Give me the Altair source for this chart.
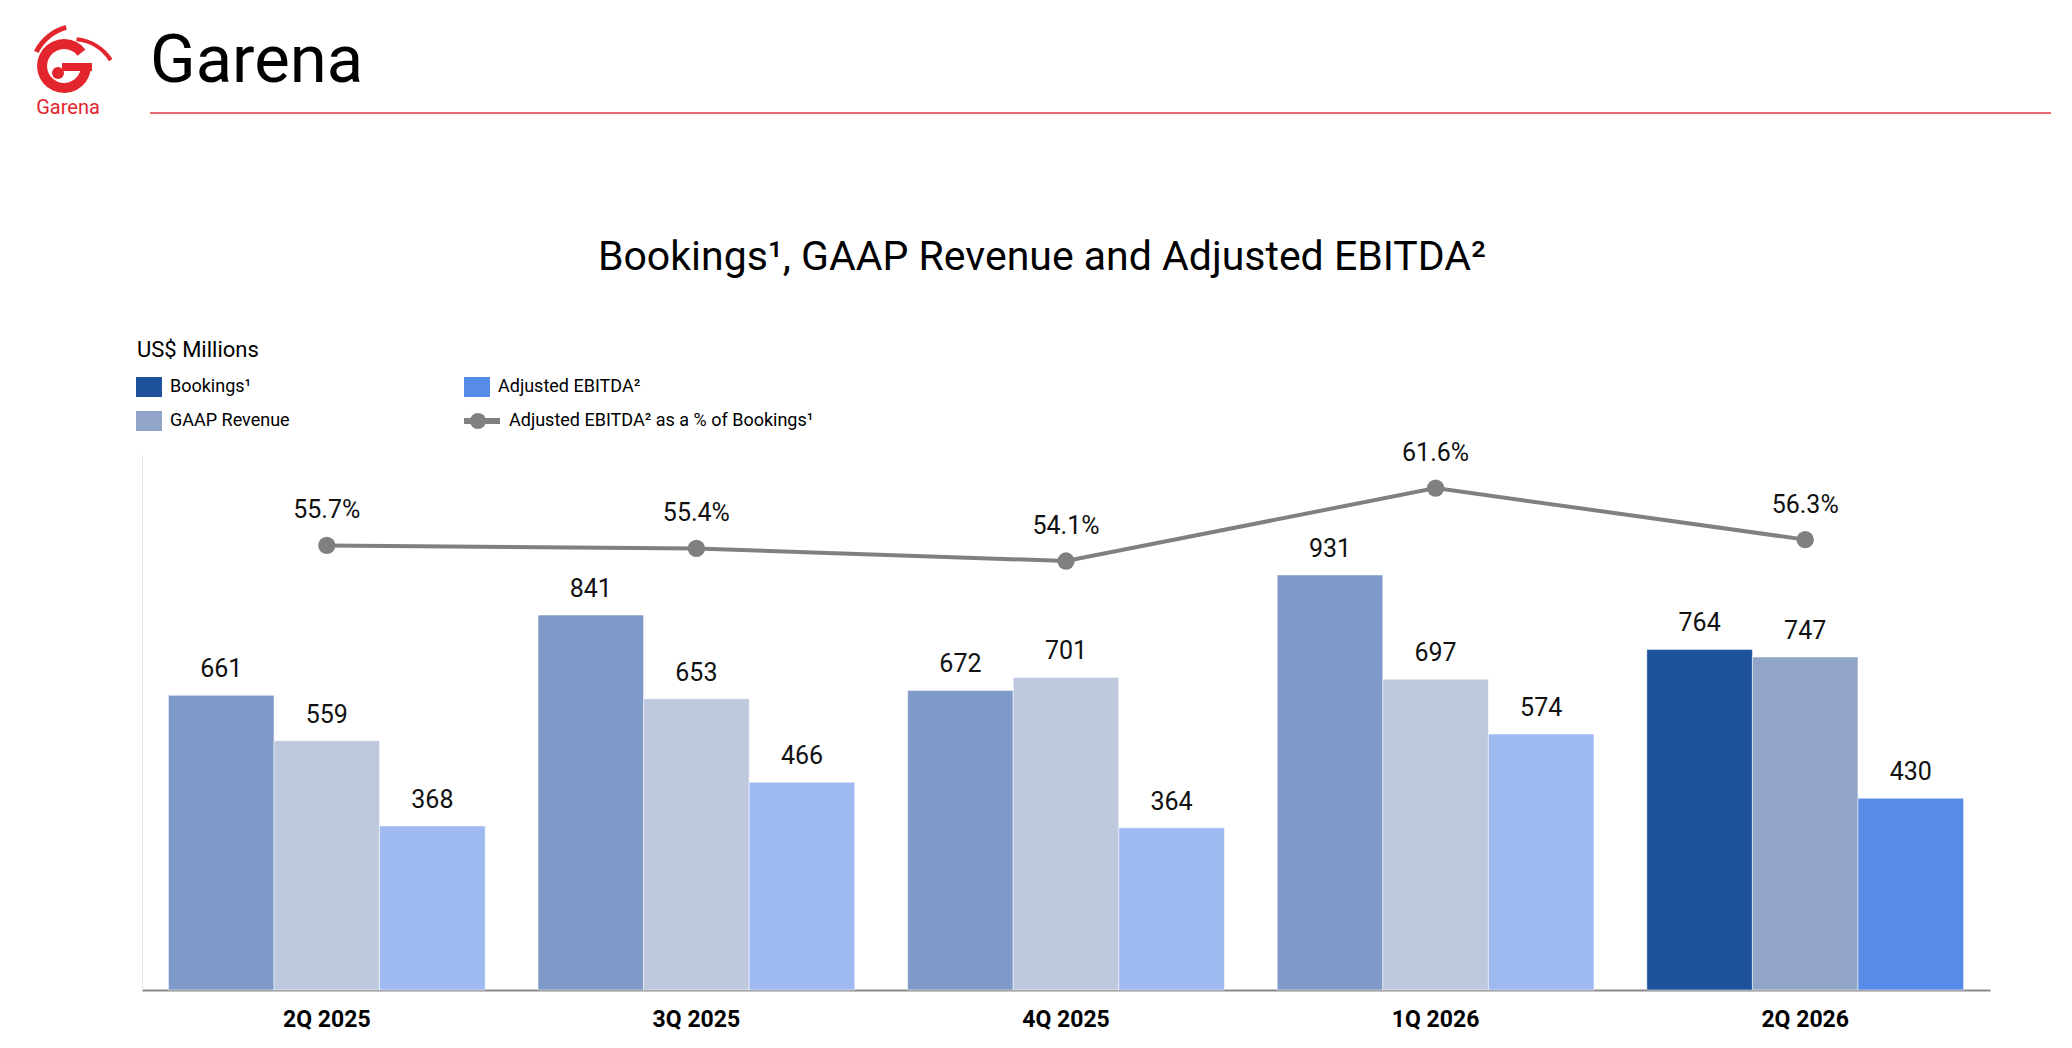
import altair as alt
import pandas as pd

# ---------------- data ----------------
quarters = ["2Q 2025", "3Q 2025", "4Q 2025", "1Q 2026", "2Q 2026"]
bookings = [661, 841, 672, 931, 764]
gaap_revenue = [559, 653, 701, 697, 747]
adj_ebitda = [368, 466, 364, 574, 430]
ebitda_pct = [55.7, 55.4, 54.1, 61.6, 56.3]

series_names = ["Bookings¹", "GAAP Revenue", "Adjusted EBITDA²"]
line_name = "Adjusted EBITDA² as a % of Bookings¹"
highlight_quarter = "2Q 2026"

light_colors = ["#7F9AC8", "#BEC9E0", "#9EBAF0"]
dark_colors = ["#1F529C", "#91A5C8", "#568CE8"]
line_color = "#808080"
FONT = "Roboto"

# ---------------- tables ----------------
rows = []
for i, q in enumerate(quarters):
    for s, vals in zip(series_names, [bookings, gaap_revenue, adj_ebitda]):
        key = s + (" latest" if q == highlight_quarter else "")
        rows.append({"quarter": q, "series": s, "value": vals[i], "colorKey": key})
bars_df = pd.DataFrame(rows)

line_df = pd.DataFrame({"quarter": quarters, "pct": ebitda_pct})
line_df["label"] = line_df["pct"].map(lambda v: f"{v:.1f}%")

color_domain = series_names + [s + " latest" for s in series_names]
color_range = light_colors + dark_colors

W, H = 1848, 535

x_enc = alt.X(
    "quarter:N",
    sort=quarters,
    title=None,
    scale=alt.Scale(paddingInner=0.143, paddingOuter=0.0715),
    axis=alt.Axis(
        labelFont=FONT, labelFontSize=23, labelFontWeight="bold", labelColor="#000000",
        labelAngle=0, ticks=False, tickSize=0, labelPadding=36, labelBaseline="alphabetic",
        domainColor="#8a8a8a", domainWidth=2, grid=False,
    ),
)
xoff_enc = alt.XOffset("series:N", sort=series_names, scale=alt.Scale(paddingInner=0, paddingOuter=0))
bar_scale = alt.Scale(domain=[0, 1200], nice=False, zero=True)
pct_scale = alt.Scale(domain=[10, 65], nice=False, zero=False)

bars = alt.Chart(bars_df).mark_bar(stroke="white", strokeWidth=1, strokeOpacity=0.5).encode(
    x=x_enc,
    xOffset=xoff_enc,
    y=alt.Y("value:Q", scale=bar_scale, title=None,
            axis=alt.Axis(labels=False, ticks=False, grid=False, domainColor="#e8e8e8",
                          domainWidth=1, title=None)),
    color=alt.Color("colorKey:N", scale=alt.Scale(domain=color_domain, range=color_range), legend=None),
)

bar_text = alt.Chart(bars_df).mark_text(
    dy=-18, baseline="alphabetic", font=FONT, fontSize=25, color="#111111"
).encode(
    x=x_enc,
    xOffset=xoff_enc,
    y=alt.Y("value:Q", scale=bar_scale, axis=None),
    text=alt.Text("value:Q"),
)

line = alt.Chart(line_df).mark_line(color=line_color, strokeWidth=4).encode(
    x=x_enc,
    y=alt.Y("pct:Q", scale=pct_scale, axis=None),
)
points = alt.Chart(line_df).mark_circle(color=line_color, size=300, opacity=1).encode(
    x=x_enc,
    y=alt.Y("pct:Q", scale=pct_scale, axis=None),
)
line_text = alt.Chart(line_df).mark_text(
    dy=-27, baseline="alphabetic", font=FONT, fontSize=25, color="#111111"
).encode(
    x=x_enc,
    y=alt.Y("pct:Q", scale=pct_scale, axis=None),
    text="label:N",
)


# ---------------- decorations (page furniture) ----------------
def text_layer(txt, x, y, size, color="#000000", align="left", weight="normal", baseline="alphabetic", font=FONT):
    return alt.Chart(pd.DataFrame({"t": [txt]})).mark_text(
        align=align, baseline=baseline, font=font, fontSize=size, color=color, fontWeight=weight
    ).encode(text="t:N", x=alt.value(x), y=alt.value(y))


one = pd.DataFrame({"k": [0]})
decor = []
# header
decor.append(text_layer("Garena", 8, -373, 67))
decor.append(alt.Chart(one).mark_rule(color="#E5393F", strokeWidth=1.5).encode(
    x=alt.value(8), x2=alt.value(1909), y=alt.value(-342)))
# logo (simplified)
decor.append(alt.Chart(one).mark_arc(color="#E3262D").encode(
    x=alt.value(-78), y=alt.value(-389), radius=alt.value(27), radius2=alt.value(17),
    theta=alt.value(1.75), theta2=alt.value(7.2)))
decor.append(alt.Chart(one).mark_rect(color="#E3262D").encode(
    x=alt.value(-80), x2=alt.value(-50), y=alt.value(-392), y2=alt.value(-384)))
decor.append(alt.Chart(one).mark_arc(color="#E3262D").encode(
    x=alt.value(-84), y=alt.value(-382), radius=alt.value(6), theta=alt.value(0), theta2=alt.value(6.3)))
decor.append(alt.Chart(one).mark_arc(color="#E3262D").encode(
    x=alt.value(-62), y=alt.value(-380), radius=alt.value(52), radius2=alt.value(47),
    theta=alt.value(5.2), theta2=alt.value(6.0)))
decor.append(alt.Chart(one).mark_arc(color="#E3262D").encode(
    x=alt.value(-70), y=alt.value(-370), radius=alt.value(48), radius2=alt.value(44),
    theta=alt.value(0.1), theta2=alt.value(1.0)))
decor.append(text_layer("Garena", -74, -341, 20, color="#E3262D", align="center"))
# title
decor.append(text_layer("Bookings¹, GAAP Revenue and Adjusted EBITDA²", 900, -185, 41, align="center"))
decor.append(text_layer("US$ Millions", -5, -98, 22))

# legend
legend_font = 18
row_y = [-68, -34]
decor.append(alt.Chart(one).mark_rect(color=dark_colors[0]).encode(
    x=alt.value(-6), x2=alt.value(20), y=alt.value(row_y[0] - 10), y2=alt.value(row_y[0] + 10)))
decor.append(text_layer(series_names[0], 28, row_y[0], legend_font, baseline="middle"))
decor.append(alt.Chart(one).mark_rect(color=dark_colors[1]).encode(
    x=alt.value(-6), x2=alt.value(20), y=alt.value(row_y[1] - 10), y2=alt.value(row_y[1] + 10)))
decor.append(text_layer(series_names[1], 28, row_y[1], legend_font, baseline="middle"))
decor.append(alt.Chart(one).mark_rect(color=dark_colors[2]).encode(
    x=alt.value(322), x2=alt.value(348), y=alt.value(row_y[0] - 10), y2=alt.value(row_y[0] + 10)))
decor.append(text_layer(series_names[2], 356, row_y[0], legend_font, baseline="middle"))
decor.append(alt.Chart(one).mark_rule(color=line_color, strokeWidth=6).encode(
    x=alt.value(322), x2=alt.value(358), y=alt.value(row_y[1])))
decor.append(alt.Chart(one).mark_circle(color=line_color, size=260, opacity=1).encode(
    x=alt.value(336), y=alt.value(row_y[1])))
decor.append(text_layer(line_name, 367, row_y[1], legend_font, baseline="middle"))

chart = alt.layer(bars, bar_text, line, points, line_text, *decor).resolve_scale(
    y="independent"
).properties(
    width=W,
    height=H,
    autosize=alt.AutoSizeParams(type="none"),
    padding={"left": 134, "top": 447, "right": 74, "bottom": 50},
    background="white",
).configure_view(stroke=None)

chart.save("out.html", embed_options={"renderer": "svg", "actions": False})
